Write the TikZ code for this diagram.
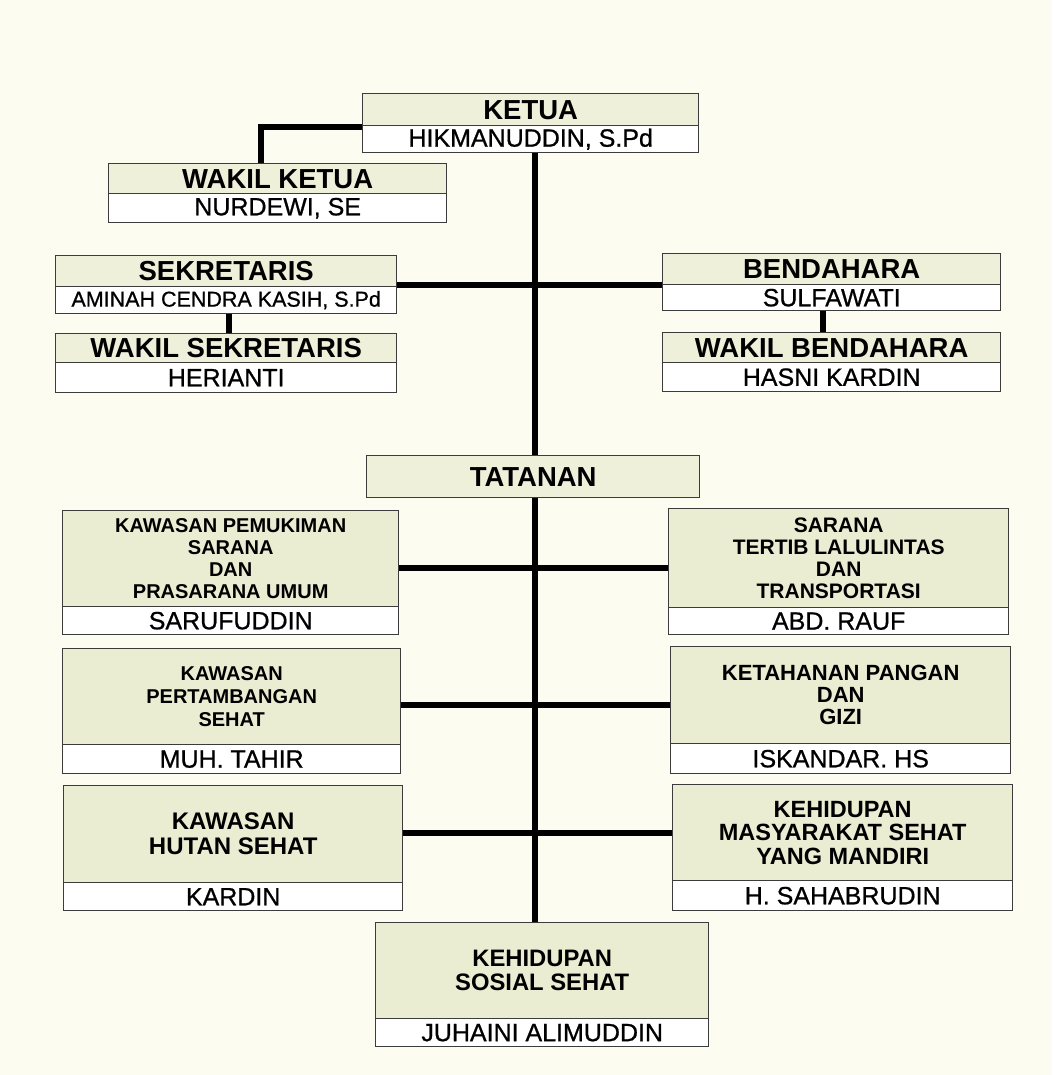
\documentclass[tikz,border=0pt]{standalone}
\usepackage{fontspec}
\setmainfont{Liberation Sans}
\newfontfamily\nmfont{Liberation Sans}[FakeBold=0.8]
\definecolor{bgc}{HTML}{FCFDF0}
\definecolor{ttlc}{HTML}{EEF0DA}
\definecolor{bigc}{HTML}{EAEDD2}
\definecolor{bordc}{HTML}{3C3C3C}
\tikzset{
  sz/.style 2 args={minimum width=#1pt, minimum height=#2pt},
  box/.style={draw=bordc, line width=1.4pt, inner sep=0pt, anchor=north west, align=center},
  ttl/.style={box, fill=ttlc, font=\bfseries\fontsize{27.5}{30}\selectfont},
  big/.style={box, fill=bigc, font=\bfseries\fontsize{#1}{#1}\selectfont},
  nm/.style={box, fill=white, font=\nmfont\fontsize{25}{27}\selectfont},
  conn/.style={line width=6pt, draw=black}
}
\begin{document}
\begin{tikzpicture}[x=1pt,y=1pt]
\useasboundingbox (0,0) rectangle (1052,-1075);
\fill[bgc] (0,0) rectangle (1052,-1075);

% top level
\node[ttl, sz={336}{32}] (ketuaT) at (362,-93) {KETUA};
\node[nm, sz={336}{27}] (ketuaN) at (362,-125) {HIKMANUDDIN, S.Pd};
\node[ttl, sz={338}{30}] (wkT) at (108,-163) {WAKIL KETUA};
\node[nm, sz={338}{29}] (wkN) at (108,-193) {NURDEWI, SE};

\node[ttl, sz={341}{31}] (sekT) at (55,-255) {SEKRETARIS};
\node[nm, sz={341}{27}, font=\nmfont\fontsize{21.5}{24}\selectfont] (sekN) at (55,-286) {AMINAH CENDRA KASIH, S.Pd};
\node[ttl, sz={341}{29}] (wsekT) at (55,-333) {WAKIL SEKRETARIS};
\node[nm, sz={341}{30}] (wsekN) at (55,-362) {HERIANTI};

\node[ttl, sz={338}{31}] (benT) at (662,-253) {BENDAHARA};
\node[nm, sz={338}{26}] (benN) at (662,-284) {SULFAWATI};
\node[ttl, sz={338}{30}] (wbenT) at (662,-332) {WAKIL BENDAHARA};
\node[nm, sz={338}{29}] (wbenN) at (662,-362) {HASNI KARDIN};

\node[ttl, sz={333}{42}] (tatan) at (366,-455) {TATANAN};

% tatanan rows
\node[big=20, sz={336}{96}] (r1lT) at (62,-510) {KAWASAN PEMUKIMAN\\[2pt]SARANA\\[2pt]DAN\\[2pt]PRASARANA UMUM};
\node[nm, sz={336}{28}] (r1lN) at (62,-606) {SARUFUDDIN};
\node[big=21, sz={340}{99}] (r1rT) at (668,-508) {SARANA\\[1pt]TERTIB LALULINTAS\\[1pt]DAN\\[1pt]TRANSPORTASI};
\node[nm, sz={340}{27}] (r1rN) at (668,-607) {ABD. RAUF};

\node[big=20, sz={338}{96}] (r2lT) at (62,-648) {KAWASAN\\[3pt]PERTAMBANGAN\\[3pt]SEHAT};
\node[nm, sz={338}{29}] (r2lN) at (62,-744) {MUH. TAHIR};
\node[big=22, sz={340}{97}] (r2rT) at (670,-646) {KETAHANAN PANGAN\\[0pt]DAN\\[0pt]GIZI};
\node[nm, sz={340}{30}] (r2rN) at (670,-743) {ISKANDAR. HS};

\node[big=24, sz={339}{97}] (r3lT) at (63,-785) {KAWASAN\\[1pt]HUTAN SEHAT};
\node[nm, sz={339}{28}] (r3lN) at (63,-882) {KARDIN};
\node[big=23.5, sz={340}{96}] (r3rT) at (672,-784) {KEHIDUPAN\\[0pt]MASYARAKAT SEHAT\\[0pt]YANG MANDIRI};
\node[nm, sz={340}{30}] (r3rN) at (672,-880) {H. SAHABRUDIN};

\node[big=23.8, sz={333}{96}] (botT) at (375,-922) {KEHIDUPAN\\[0pt]SOSIAL SEHAT};
\node[nm, sz={333}{28}] (botN) at (375,-1018) {JUHAINI ALIMUDDIN};

% connectors
\coordinate (spx) at (535,0);
\coordinate (row0) at (0,-285);
\coordinate (row1) at (0,-568);
\coordinate (row2) at (0,-705);
\coordinate (row3) at (0,-833);
\draw[conn] (ketuaN.south -| spx) -- (tatan.north -| spx);
\draw[conn] (tatan.south -| spx) -- (botT.north -| spx);
\draw[conn] ([yshift=-1pt]ketuaT.south west) -| ([xshift=-17pt]wkT.north);
\draw[conn] (sekT.east |- row0) -- (benT.west |- row0);
\draw[conn] ([xshift=3pt]sekN.south) -- ([xshift=3pt]wsekT.north);
\draw[conn] ([xshift=-9pt]benN.south) -- ([xshift=-9pt]wbenT.north);
\draw[conn] (r1lT.east |- row1) -- (r1rT.west |- row1);
\draw[conn] (r2lT.east |- row2) -- (r2rT.west |- row2);
\draw[conn] (r3lT.east |- row3) -- (r3rT.west |- row3);
\end{tikzpicture}
\end{document}
